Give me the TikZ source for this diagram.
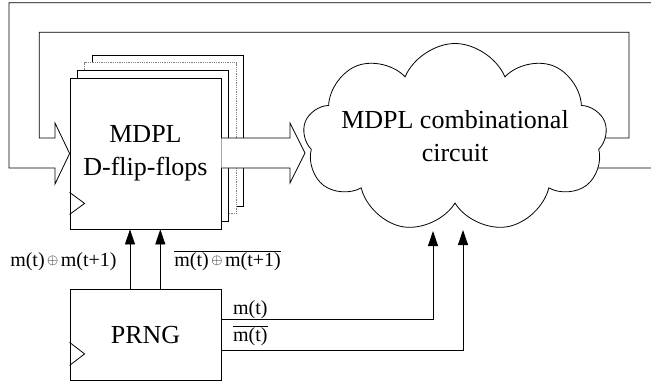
\documentclass[tikz,border=0pt]{standalone}
\usepackage{fontspec}
\setmainfont{Liberation Serif}
\usetikzlibrary{arrows.meta}
\usetikzlibrary{calc}
\usetikzlibrary{shapes}

\begin{document}
\begin{tikzpicture}[x=1pt, y=-1pt, line width=0.8pt,
        box_style/.style={rectangle,draw=black,fill=white,minimum width=151pt,inner sep=0pt,align=center,font=\fontsize{26}{33}\selectfont},
        back_style/.style={rectangle,draw=black,fill=white,minimum width=151.5pt,minimum height=151pt,inner sep=0pt},
        cloud_style/.style={cloud,draw=black,cloud puffs=9,cloud puff arc=135,minimum width=304pt,minimum height=189pt,inner sep=0pt},
        text_style/.style={inner sep=0pt,align=center,font=\fontsize{26}{33}\selectfont},
        label_style/.style={inner sep=0pt,font=\fontsize{20}{24}\selectfont},
        edge_style/.style={draw=black,-{Triangle[length=15pt,width=10pt]}},
        bus_style/.style={draw=black,fill=white,line join=miter}]
        \useasboundingbox (0,0) rectangle (651,381);

        \node [back_style](ff4) at (168,130.5) {};
        \node [back_style,draw=gray,densely dotted](ff3) at (160.5,138) {};
        \node [back_style](ff2) at (153,145.5) {};
        \node [box_style,minimum height=151pt](ff) at (145.5,153.5) {MDPL\\D-flip-flops};
        \node [box_style,minimum height=91.2pt](prng) at (145.5,334.9) {PRNG};
        \node [cloud_style](comb) at (455,138) {};
        \node [text_style](combtext) at (455,136.6) {MDPL combinational\\circuit};

        \coordinate (c_in1) at (433,231);
        \coordinate (c_in2) at (463,230);
        \coordinate (c_loop) at (605,138);
        \coordinate (c_out) at (598,168);

        % clock inputs
        \draw ($(ff.south west)+(0,-37)$) -- ++(15,11) -- ++(-15,11);
        \draw ($(prng.south west)+(0,-38.5)$) -- ++(15,11.5) -- ++(-15,11.5);

        % wide arrows and feedback
        \draw [bus_style] (ff.east |- 0,138) -- (290,138) -- (290,123) -- (305,153) -- (290,183) -- (290,168) -- (ff.east |- 0,168);
        \draw [line join=miter] (c_loop) -- (629,138) -- (629,32.3) -- (39.3,32.3) -- (39.3,138) -- (55,138) -- (55,123) -- (ff.west) -- (55,184) -- (55,168) -- (9,168) -- (9,2.7) -- (660,2.7) -- (660,168) -- (c_out);

        \draw [edge_style] (prng.north -| 130,0) -- (ff.south -| 130,0);
        \draw [edge_style] (prng.north -| 160.3,0) -- (ff.south -| 160.3,0);
        \draw [edge_style] (prng.east |- 0,319.3) -| (c_in1);
        \draw [edge_style] (prng.east |- 0,350) -| (c_in2);

        \node [label_style,anchor=base east](l_xor) at (117,266) {m(t)\hspace{2.5pt}\raisebox{2pt}{$\scriptstyle\oplus$}\hspace{2.5pt}m(t+1)};
        \node [label_style,anchor=base west](l_xnor) at (174,266) {$\overline{\mbox{m(t)\hspace{2.5pt}\raisebox{2pt}{$\scriptstyle\oplus$}\hspace{2.5pt}m(t+1)}}$};
        \node [label_style,anchor=base west](l_m) at (232.7,314) {m(t)};
        \node [label_style,anchor=base west](l_mbar) at (232.7,341.7) {$\overline{\mbox{m(t)}}$};
\end{tikzpicture}
\end{document}
